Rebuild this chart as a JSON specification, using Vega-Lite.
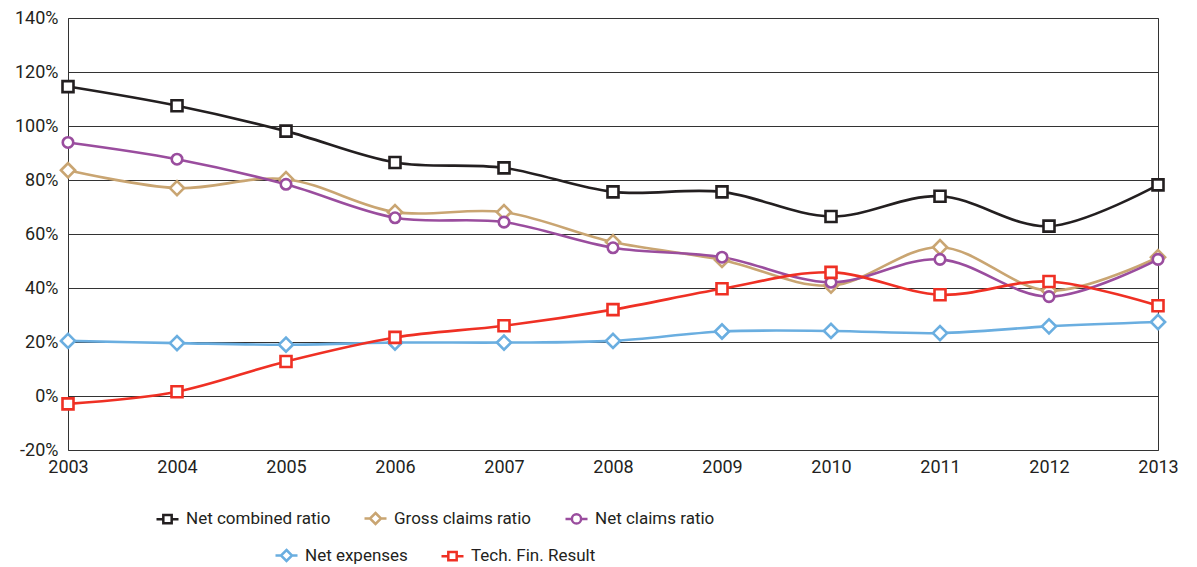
{
  "$schema": "https://vega.github.io/schema/vega-lite/v6.json",
  "width": 1090,
  "height": 432,
  "autosize": {"type": "none"},
  "padding": {"left": 68, "top": 18, "right": 39, "bottom": 117},
  "background": "white",
  "config": {
    "font": "Roboto",
    "view": {"stroke": "#333333", "strokeWidth": 1},
    "axis": {"labelFont": "Roboto", "labelFontSize": 18, "labelColor": "#231f20"},
    "legend": {"labelFont": "Roboto", "labelFontSize": 17, "labelColor": "#231f20"}
  },
  "data": {
    "values": [
      {"year": 2003, "series": "Net combined ratio", "value": 114.6},
      {"year": 2004, "series": "Net combined ratio", "value": 107.5},
      {"year": 2005, "series": "Net combined ratio", "value": 98.1},
      {"year": 2006, "series": "Net combined ratio", "value": 86.5},
      {"year": 2007, "series": "Net combined ratio", "value": 84.5},
      {"year": 2008, "series": "Net combined ratio", "value": 75.6},
      {"year": 2009, "series": "Net combined ratio", "value": 75.6},
      {"year": 2010, "series": "Net combined ratio", "value": 66.5},
      {"year": 2011, "series": "Net combined ratio", "value": 74.0},
      {"year": 2012, "series": "Net combined ratio", "value": 62.9},
      {"year": 2013, "series": "Net combined ratio", "value": 78.2},
      {"year": 2003, "series": "Gross claims ratio", "value": 83.6},
      {"year": 2004, "series": "Gross claims ratio", "value": 77.0},
      {"year": 2005, "series": "Gross claims ratio", "value": 80.3},
      {"year": 2006, "series": "Gross claims ratio", "value": 68.1},
      {"year": 2007, "series": "Gross claims ratio", "value": 68.1},
      {"year": 2008, "series": "Gross claims ratio", "value": 57.0},
      {"year": 2009, "series": "Gross claims ratio", "value": 50.4},
      {"year": 2010, "series": "Gross claims ratio", "value": 40.9},
      {"year": 2011, "series": "Gross claims ratio", "value": 55.1},
      {"year": 2012, "series": "Gross claims ratio", "value": 39.0},
      {"year": 2013, "series": "Gross claims ratio", "value": 51.4},
      {"year": 2003, "series": "Net claims ratio", "value": 93.9},
      {"year": 2004, "series": "Net claims ratio", "value": 87.7},
      {"year": 2005, "series": "Net claims ratio", "value": 78.4},
      {"year": 2006, "series": "Net claims ratio", "value": 66.0},
      {"year": 2007, "series": "Net claims ratio", "value": 64.4},
      {"year": 2008, "series": "Net claims ratio", "value": 54.9},
      {"year": 2009, "series": "Net claims ratio", "value": 51.4},
      {"year": 2010, "series": "Net claims ratio", "value": 42.1},
      {"year": 2011, "series": "Net claims ratio", "value": 50.6},
      {"year": 2012, "series": "Net claims ratio", "value": 36.8},
      {"year": 2013, "series": "Net claims ratio", "value": 50.6},
      {"year": 2003, "series": "Net expenses", "value": 20.4},
      {"year": 2004, "series": "Net expenses", "value": 19.6},
      {"year": 2005, "series": "Net expenses", "value": 19.0},
      {"year": 2006, "series": "Net expenses", "value": 19.8},
      {"year": 2007, "series": "Net expenses", "value": 19.8},
      {"year": 2008, "series": "Net expenses", "value": 20.4},
      {"year": 2009, "series": "Net expenses", "value": 23.9},
      {"year": 2010, "series": "Net expenses", "value": 24.1},
      {"year": 2011, "series": "Net expenses", "value": 23.3},
      {"year": 2012, "series": "Net expenses", "value": 25.8},
      {"year": 2013, "series": "Net expenses", "value": 27.4},
      {"year": 2003, "series": "Tech. Fin. Result", "value": -2.9},
      {"year": 2004, "series": "Tech. Fin. Result", "value": 1.6},
      {"year": 2005, "series": "Tech. Fin. Result", "value": 12.8},
      {"year": 2006, "series": "Tech. Fin. Result", "value": 21.7},
      {"year": 2007, "series": "Tech. Fin. Result", "value": 26.0},
      {"year": 2008, "series": "Tech. Fin. Result", "value": 32.0},
      {"year": 2009, "series": "Tech. Fin. Result", "value": 39.7},
      {"year": 2010, "series": "Tech. Fin. Result", "value": 45.8},
      {"year": 2011, "series": "Tech. Fin. Result", "value": 37.5},
      {"year": 2012, "series": "Tech. Fin. Result", "value": 42.4},
      {"year": 2013, "series": "Tech. Fin. Result", "value": 33.4}
    ]
  },
  "encoding": {
    "x": {
      "field": "year",
      "type": "quantitative",
      "scale": {"domain": [2003, 2013], "nice": false, "zero": false},
      "axis": {
        "values": [2003, 2004, 2005, 2006, 2007, 2008, 2009, 2010, 2011, 2012, 2013],
        "format": "d",
        "title": null,
        "grid": false,
        "ticks": false,
        "domain": false,
        "labelPadding": 8,
        "labelFlush": false
      }
    },
    "y": {
      "field": "value",
      "type": "quantitative",
      "scale": {"domain": [-20, 140], "nice": false, "zero": false},
      "axis": {
        "values": [-20, 0, 20, 40, 60, 80, 100, 120, 140],
        "labelExpr": "datum.value + '%'",
        "title": null,
        "grid": true,
        "gridColor": "#333333",
        "gridWidth": 1,
        "gridOpacity": 1,
        "ticks": false,
        "domain": false,
        "labelPadding": 10
      }
    }
  },
  "layer": [
    {
      "transform": [{"filter": {"field": "series", "oneOf": ["Net combined ratio", "Gross claims ratio", "Net claims ratio"]}}],
      "mark": {"type": "line", "interpolate": "cardinal", "tension": 0, "strokeWidth": 2.6},
      "encoding": {
        "stroke": {
          "field": "series",
          "type": "nominal",
          "scale": {
            "domain": ["Net combined ratio", "Gross claims ratio", "Net claims ratio"],
            "range": ["#231f20", "#c9a572", "#9a4d9e"]
          },
          "legend": {
            "title": null,
            "orient": "none",
            "legendX": 87,
            "legendY": 488,
            "direction": "horizontal",
            "symbolSize": 484,
            "symbolStrokeWidth": 2.5,
            "symbolFillColor": "white",
            "symbolOpacity": 1,
            "labelOffset": 6,
            "columnPadding": 28,
            "symbolType": {"expr": "datum.value === 'Net claims ratio' ? 'M-1,0H-0.42M0.42,0H1M0.42,0A0.42,0.42 0 1,1 -0.42,0A0.42,0.42 0 1,1 0.42,0Z' : datum.value === 'Gross claims ratio' ? 'M-1,0H-0.5M0.5,0H1M0,-0.5L0.5,0L0,0.5L-0.5,0Z' : 'M-1,0H-0.38M0.38,0H1M-0.38,-0.38H0.38V0.38H-0.38Z'"}
          }
        }
      }
    },
    {
      "transform": [{"filter": {"field": "series", "oneOf": ["Net expenses", "Tech. Fin. Result"]}}],
      "mark": {"type": "line", "interpolate": "cardinal", "tension": 0, "strokeWidth": 2.6},
      "encoding": {
        "stroke": {
          "field": "series",
          "type": "nominal",
          "scale": {
            "domain": ["Net expenses", "Tech. Fin. Result"],
            "range": ["#6aaee0", "#ef3024"]
          },
          "legend": {
            "title": null,
            "orient": "none",
            "legendX": 206,
            "legendY": 525,
            "direction": "horizontal",
            "symbolSize": 484,
            "symbolStrokeWidth": 2.5,
            "symbolFillColor": "white",
            "symbolOpacity": 1,
            "labelOffset": 6,
            "columnPadding": 28,
            "symbolType": {"expr": "datum.value === 'Net expenses' ? 'M-1,0H-0.5M0.5,0H1M0,-0.5L0.5,0L0,0.5L-0.5,0Z' : 'M-1,0H-0.38M0.38,0H1M-0.38,-0.38H0.38V0.38H-0.38Z'"}
          }
        }
      }
    },
    {
      "transform": [{"filter": "datum.series === 'Net combined ratio'"}],
      "mark": {"type": "point", "shape": "square", "size": 121, "filled": true, "fill": "white", "stroke": "#231f20", "strokeWidth": 2.6, "opacity": 1}
    },
    {
      "transform": [{"filter": "datum.series === 'Gross claims ratio'"}],
      "mark": {"type": "point", "shape": "diamond", "size": 200, "filled": true, "fill": "white", "stroke": "#c9a572", "strokeWidth": 2.6, "opacity": 1}
    },
    {
      "transform": [{"filter": "datum.series === 'Net claims ratio'"}],
      "mark": {"type": "point", "shape": "circle", "size": 110, "filled": true, "fill": "white", "stroke": "#9a4d9e", "strokeWidth": 2.6, "opacity": 1}
    },
    {
      "transform": [{"filter": "datum.series === 'Net expenses'"}],
      "mark": {"type": "point", "shape": "diamond", "size": 200, "filled": true, "fill": "white", "stroke": "#6aaee0", "strokeWidth": 2.6, "opacity": 1}
    },
    {
      "transform": [{"filter": "datum.series === 'Tech. Fin. Result'"}],
      "mark": {"type": "point", "shape": "square", "size": 121, "filled": true, "fill": "white", "stroke": "#ef3024", "strokeWidth": 2.6, "opacity": 1}
    }
  ],
  "resolve": {"scale": {"stroke": "independent"}}
}
